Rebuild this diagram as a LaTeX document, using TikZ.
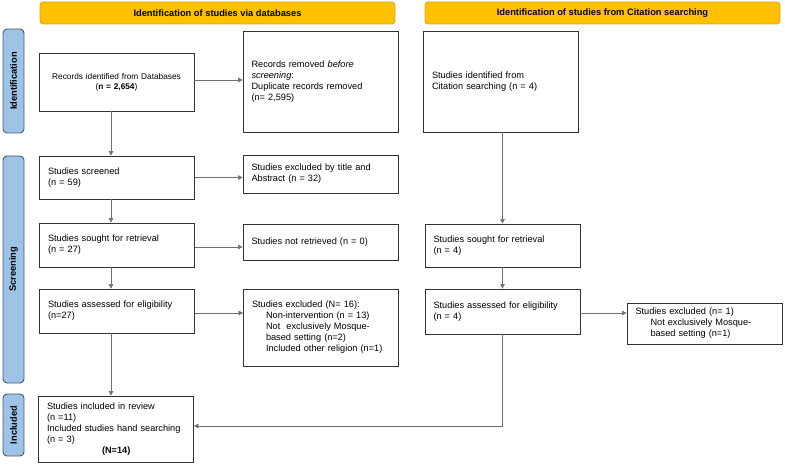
\documentclass[tikz,border=0pt]{standalone}
\usepackage{fontspec}
\setmainfont{Liberation Sans}
\usetikzlibrary{arrows.meta,calc}
\definecolor{bannerfill}{HTML}{FFC000}
\definecolor{bannerdraw}{HTML}{D9A514}
\definecolor{sidefill}{HTML}{9DC3E6}
\definecolor{sidedraw}{HTML}{4A5866}
\definecolor{boxdraw}{HTML}{333333}
\definecolor{linecol}{HTML}{6E6E6E}
\begin{document}
\begin{tikzpicture}[x=1pt,y=-1pt,
  banner/.style={draw=bannerdraw,fill=bannerfill,rounded corners=3pt,line width=0.7pt,
    font=\fontsize{9.3}{11}\selectfont\bfseries,inner sep=0pt},
  side/.style={draw=sidedraw,fill=sidefill,rounded corners=4pt,line width=0.9pt,
    font=\fontsize{9.3}{11}\selectfont\bfseries,inner sep=0pt,rotate=90},
  box/.style={draw=boxdraw,line width=0.8pt,font=\fontsize{9.2}{11}\selectfont,
    align=left,inner xsep=8.5pt,inner ysep=2pt,anchor=center},
  conn/.style={draw=linecol,line width=0.6pt,-{Triangle[length=4.5pt,width=4.5pt]}}
]
\useasboundingbox (0,0) rectangle (785,465);

% banners
\node[banner,minimum width=355pt,minimum height=22pt] (b1) at (217.5,13) {Identification of studies via databases};
\node[banner,minimum width=355pt,minimum height=22pt] (b2) at (602.5,13) {Identification of studies from Citation searching};

% side labels
\node[side,minimum width=104pt,minimum height=21pt] (s1) at (13.5,81) {Identification};
\node[side,minimum width=227pt,minimum height=21pt] (s2) at (13.5,269.5) {Screening};
\node[side,minimum width=62pt,minimum height=21pt] (s3) at (13.5,425) {Included};

% left column
\node[box,minimum width=155pt,minimum height=58pt,align=center,text width=138pt,
  font=\fontsize{8.3}{10}\selectfont] (rec) at (116.5,82)
  {Records identified from Databases\\({\bfseries n = 2,654})};
\node[box,minimum width=155pt,minimum height=101pt,text width=138pt] (rem) at (320.5,81.5)
  {Records removed \textit{before}\\\textit{screening}:\\Duplicate records removed\\(n= 2,595)\\[6pt]};
\node[box,minimum width=155pt,minimum height=43pt,text width=138pt] (scr) at (117,177.5)
  {Studies screened\\(n = 59)};
\node[box,minimum width=155pt,minimum height=38pt,text width=138pt] (ex1) at (320.5,174)
  {Studies excluded by title and\\Abstract (n = 32)};
\node[box,minimum width=155pt,minimum height=44pt,text width=138pt] (sou) at (117,245)
  {Studies sought for retrieval\\(n = 27)};
\node[box,minimum width=155pt,minimum height=36pt,text width=138pt] (nre) at (320.5,242)
  {Studies not retrieved (n = 0)};
\node[box,minimum width=155pt,minimum height=44pt,text width=138pt] (eli) at (117,311)
  {Studies assessed for eligibility\\(n=27)};
\node[box,minimum width=154pt,minimum height=77pt,text width=138pt] (ex2) at (321,327.5)
  {Studies excluded (N= 16):\\\hspace*{14pt}Non-intervention (n = 13)\\\hspace*{14pt}Not\ \ exclusively Mosque-\\\hspace*{14pt}based setting (n=2)\\\hspace*{14pt}Included other religion (n=1)\\[10pt]};
\node[box,minimum width=154pt,minimum height=66pt,text width=138pt] (inc) at (116,429)
  {Studies included in review\\(n =11)\\Included studies hand searching\\(n = 3)\\\hspace*{55pt}\textbf{(N=14)}};

% right column
\node[box,minimum width=154pt,minimum height=101pt,text width=138pt] (cit) at (501,81.5)
  {Studies identified from\\Citation searching (n = 4)\\[8pt]};
\node[box,minimum width=155pt,minimum height=43pt,text width=138pt] (cso) at (502.5,245.5)
  {Studies sought for retrieval\\(n = 4)};
\node[box,minimum width=155pt,minimum height=45pt,text width=138pt] (cel) at (502.5,311.5)
  {Studies assessed for eligibility\\(n = 4)};
\node[box,minimum width=155pt,minimum height=41pt,text width=138pt] (ex3) at (704.5,323.5)
  {Studies excluded (n= 1)\\\hspace*{15pt}Not exclusively Mosque-\\\hspace*{15pt}based setting (n=1)};

% connectors
\coordinate (lc) at (111,0);
\draw[conn] (rec.east |- 0,80) -- (rem.west |- 0,80);
\draw[conn] (rec.south -| lc) -- (scr.north -| lc);
\draw[conn] (scr.east) -- (ex1.west |- scr.east);
\draw[conn] (scr.south -| lc) -- (sou.north -| lc);
\draw[conn] (sou.east |- 0,247) -- (nre.west |- 0,247);
\draw[conn] (sou.south -| lc) -- (eli.north -| lc);
\draw[conn] (eli.east |- 0,313) -- (ex2.west |- 0,313);
\draw[conn] (eli.south -| lc) -- (inc.north -| lc);
\draw[conn] (cit.south -| cso.north) -- (cso.north);
\draw[conn] (cso.south) -- (cel.north);
\draw[conn] (cel.east |- 0,313) -- (ex3.west |- 0,313);
\draw[conn] (cel.south) |- (inc.east |- 0,426);
\end{tikzpicture}
\end{document}
